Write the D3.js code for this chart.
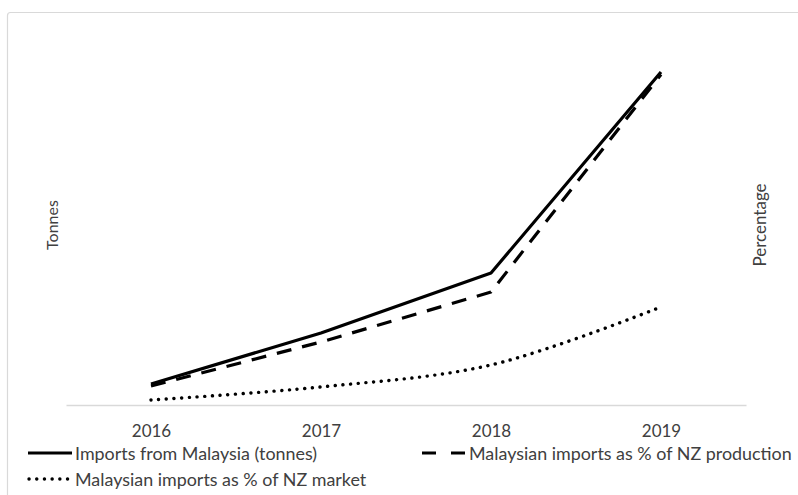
<!DOCTYPE html>
<html>
<head>
<meta charset="utf-8">
<script src="https://cdn.jsdelivr.net/npm/d3@7/dist/d3.min.js"></script>
<style>
  html, body { margin: 0; padding: 0; background: #fff; }
  svg { display: block; }
  text { font-family: Lato, "Open Sans", sans-serif; fill: #404040; }
</style>
</head>
<body>
<svg id="chart" width="798" height="495"></svg>
<script>
// Years on the category axis
const years = ["2016", "2017", "2018", "2019"];
// Imports from Malaysia, tonnes (left scale)
const importsTonnes = [150, 514, 943, 2379];
// Malaysian imports as a share of NZ production, % (right scale)
const shareProduction = [1.36, 4.5, 8.07, 23.6];
// Malaysian imports as a share of NZ market, % (right scale)
const shareMarket = [0.36, 1.29, 2.86, 7.0];

const svg = d3.select("#chart");

// Outer chart frame (runs past the right and bottom edges)
svg.append("rect")
  .attr("x", 7.5).attr("y", 12.5)
  .attr("width", 820).attr("height", 520)
  .attr("rx", 3)
  .attr("fill", "#fff")
  .attr("stroke", "#d9d9d9")
  .attr("stroke-width", 1.2);

const plot = { left: 66, right: 746, top: 55, bottom: 405 };

const x = d3.scalePoint().domain(years).range([plot.left, plot.right]).padding(0.5);
const yLeft = d3.scaleLinear().domain([0, 2500]).range([plot.bottom, plot.top]);
const yRight = d3.scaleLinear().domain([0, 25]).range([plot.bottom, plot.top]);

// Category axis
const xAxis = svg.append("g")
  .attr("transform", `translate(0,${plot.bottom})`)
  .call(d3.axisBottom(x).tickSize(0).tickSizeOuter(0).tickPadding(20));
xAxis.select(".domain").attr("stroke", "#d9d9d9").attr("stroke-width", 1.5);
xAxis.selectAll("text")
  .attr("font-size", 17)
  .style("font-family", "Lato, 'Open Sans', sans-serif")
  .attr("fill", "#404040");

// Axis titles
svg.append("text")
  .attr("transform", `translate(58,225) rotate(-90)`)
  .attr("text-anchor", "middle")
  .attr("font-size", 16)
  .text("Tonnes");
svg.append("text")
  .attr("transform", `translate(766,225) rotate(-90)`)
  .attr("text-anchor", "middle")
  .attr("font-size", 17)
  .text("Percentage");

const straight = d3.line().x(d => x(d.year)).y(d => d.y);
const smooth = d3.line().x(d => x(d.year)).y(d => d.y).curve(d3.curveCatmullRom.alpha(0.5));

const series = [
  { name: "Imports from Malaysia (tonnes)", values: importsTonnes, scale: yLeft,
    gen: straight, dash: null, cap: "butt", width: 3.2 },
  { name: "Malaysian imports as % of NZ production", values: shareProduction, scale: yRight,
    gen: straight, dash: "15,11", cap: "butt", width: 3.2 },
  { name: "Malaysian imports as % of NZ market", values: shareMarket, scale: yRight,
    gen: smooth, dash: "0.1,7.6", cap: "round", width: 3.4 }
];

series.forEach(s => {
  const pts = years.map((yr, i) => ({ year: yr, y: s.scale(s.values[i]) }));
  svg.append("path")
    .attr("d", s.gen(pts))
    .attr("fill", "none")
    .attr("stroke", "#000")
    .attr("stroke-width", s.width)
    .attr("stroke-linecap", s.cap)
    .attr("stroke-linejoin", "round")
    .attr("stroke-dasharray", s.dash);
});

// Legend
const legendItems = [
  { s: series[0], x: 28, y: 453 },
  { s: series[1], x: 422, y: 453 },
  { s: series[2], x: 28, y: 479 }
];
legendItems.forEach(li => {
  const g = svg.append("g").attr("transform", `translate(${li.x},${li.y})`);
  g.append("line")
    .attr("x1", li.s.cap === "round" ? 1 : 0).attr("x2", 44)
    .attr("y1", 0).attr("y2", 0)
    .attr("stroke", "#000")
    .attr("stroke-width", li.s.width)
    .attr("stroke-linecap", li.s.cap)
    .attr("stroke-dasharray", li.s.dash ? (li.s.cap === "round" ? "0.1,7.6" : "14,15") : null);
  g.append("text")
    .attr("x", 47).attr("y", 6.5)
    .attr("font-size", 17.9)
    .text(li.s.name);
});
</script>
</body>
</html>
